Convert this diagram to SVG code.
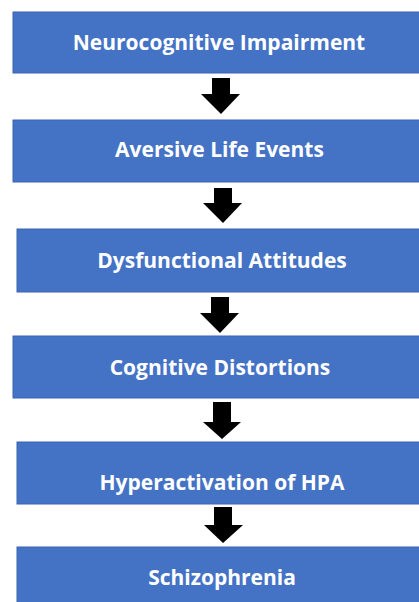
<svg xmlns="http://www.w3.org/2000/svg" width="419" height="602" viewBox="0 0 419 602">
<style>
.box{fill:#4472C4;stroke:#3B64B0;stroke-width:1}
.lbl{fill:#fff;font-family:"Open Sans",Lato,sans-serif;font-weight:bold;font-size:21px;text-anchor:middle}
.arr{fill:#000}
</style>
<rect width="419" height="602" fill="#fff"/>
<g id="n1"><rect class="box" x="13" y="12" width="410" height="61"/><text class="lbl" x="219" y="50">Neurocognitive Impairment</text></g>
<g id="n2"><rect class="box" x="13" y="120" width="410" height="62"/><text class="lbl" x="219.5" y="157">Aversive Life Events</text></g>
<g id="n3"><rect class="box" x="17" y="229" width="406" height="63"/><text class="lbl" x="222" y="268">Dysfunctional Attitudes</text></g>
<g id="n4"><rect class="box" x="13" y="336" width="410" height="62"/><text class="lbl" x="220" y="375">Cognitive Distortions</text></g>
<g id="n5"><rect class="box" x="17" y="442" width="406" height="62"/><text class="lbl" x="222" y="490">Hyperactivation of HPA</text></g>
<g id="n6"><rect class="box" x="17" y="547" width="406" height="60"/><text class="lbl" x="222" y="585">Schizophrenia</text></g>
<g id="connectors">
<polygon class="arr" points="212,78 230,78 230,94 240,94 221,114 201,94 212,94"/>
<polygon class="arr" points="214,188 232,188 232,203 242,203 223,223 203,203 214,203"/>
<polygon class="arr" points="211,297 229,297 229,313 239,313 220,333 200,313 211,313"/>
<polygon class="arr" points="213,402 231,402 231,422 241,422 222,439 203,422 213,422"/>
<polygon class="arr" points="214,507 232,507 232,525 243,525 223,543 204,525 214,525"/>
</g>
</svg>
